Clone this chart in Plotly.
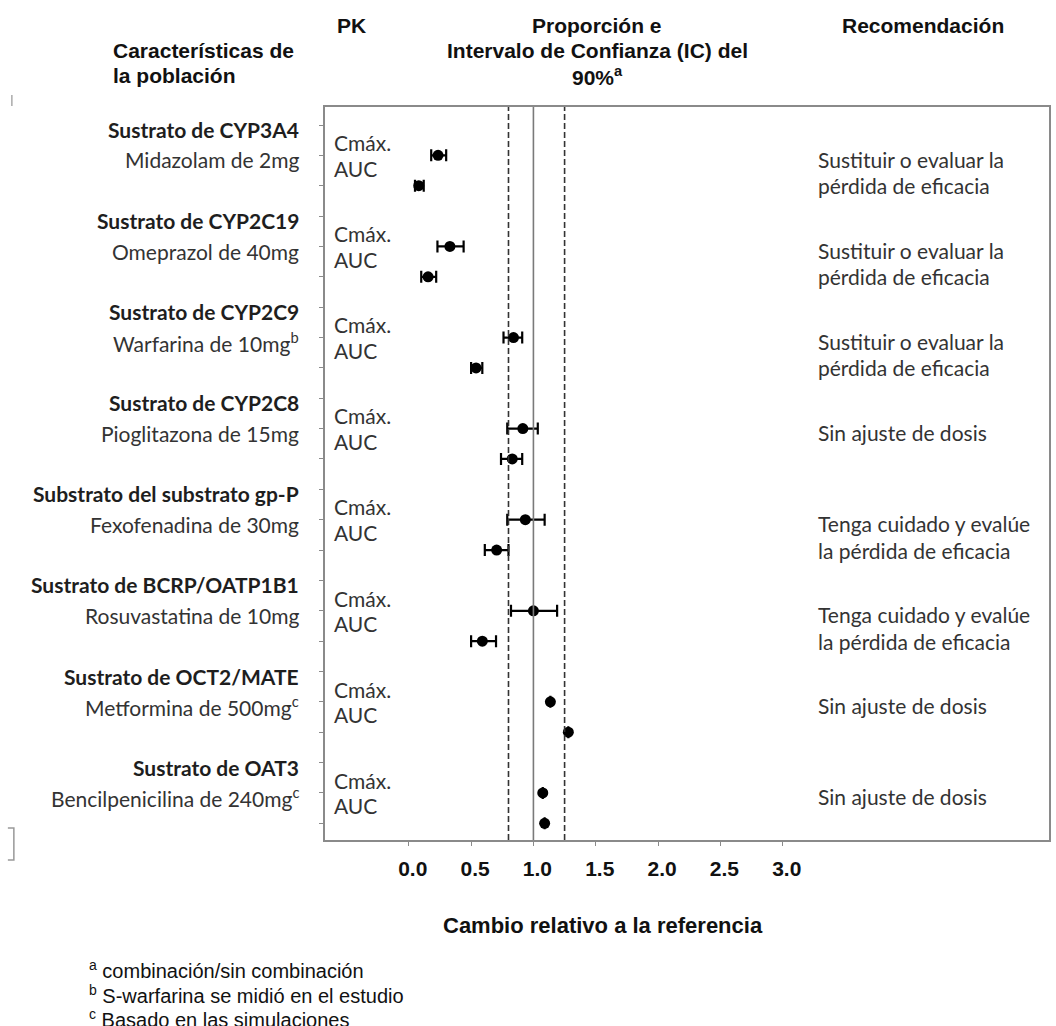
import plotly.graph_objects as go

# ---------------- data ----------------
group_titles = ["Sustrato de CYP3A4", "Sustrato de CYP2C19", "Sustrato de CYP2C9",
                "Sustrato de CYP2C8", "Substrato del substrato gp-P",
                "Sustrato de BCRP/OATP1B1", "Sustrato de OCT2/MATE", "Sustrato de OAT3"]
drugs = ["Midazolam de 2mg", "Omeprazol de 40mg", "Warfarina de 10mg<sup>b</sup>",
         "Pioglitazona de 15mg", "Fexofenadina de 30mg", "Rosuvastatina de 10mg",
         "Metformina de 500mg<sup>c</sup>", "Bencilpenicilina de 240mg<sup>c</sup>"]
recommendations = [
    ["Sustituir o evaluar la", "pérdida de eficacia"],
    ["Sustituir o evaluar la", "pérdida de eficacia"],
    ["Sustituir o evaluar la", "pérdida de eficacia"],
    ["Sin ajuste de dosis"],
    ["Tenga cuidado y evalúe", "la pérdida de eficacia"],
    ["Tenga cuidado y evalúe", "la pérdida de eficacia"],
    ["Sin ajuste de dosis"],
    ["Sin ajuste de dosis"],
]
cmax_ratio = [0.235, 0.33, 0.84, 0.915, 0.935, 1.00, 1.136, 1.075]
cmax_low   = [0.18, 0.23, 0.76, 0.79, 0.79, 0.82, None, None]
cmax_high  = [0.30, 0.44, 0.91, 1.035, 1.09, 1.19, None, None]
auc_ratio  = [0.08, 0.155, 0.54, 0.83, 0.705, 0.59, 1.28, 1.09]
auc_low    = [0.05, 0.10, 0.50, 0.74, 0.61, 0.50, None, None]
auc_high   = [0.12, 0.22, 0.59, 0.91, 0.80, 0.70, None, None]
x_tickvals = [0.0, 0.5, 1.0, 1.5, 2.0, 2.5, 3.0]
x_ticktext = ["0.0", "0.5", "1.0", "1.5", "2.0", "2.5", "3.0"]
no_effect = 1.0
bounds = [0.8, 1.25]
footnotes = [("a", "combinación/sin combinación"),
             ("b", "S-warfarina se midió en el estudio"),
             ("c", "Basado en las simulaciones")]

# ---------------- layout helpers ----------------
W, H = 1056, 1026
PL, PR, PT, PB = 325, 1051, 107, 840
X0_PX, PX_PER_UNIT = 409, 125
def px(xp):
    return (xp - PL) / (PR - PL)
def py(yp):
    return (PB - yp) / (PB - PT)

n = len(drugs)
rows_c = [3 * g + 1 for g in range(n)]
rows_a = [3 * g + 2 for g in range(n)]

def err(vals, lo, hi):
    plus = [(h - v) if h is not None else 0 for v, h in zip(vals, hi)]
    minus = [(v - l) if l is not None else 0 for v, l in zip(vals, lo)]
    return plus, minus

cp, cm = err(cmax_ratio, cmax_low, cmax_high)
ap, am = err(auc_ratio, auc_low, auc_high)

fig = go.Figure()
for xs, ys, pl, mi in [(cmax_ratio, rows_c, cp, cm), (auc_ratio, rows_a, ap, am)]:
    fig.add_trace(go.Scatter(
        x=xs, y=ys, mode="markers",
        marker=dict(color="black", size=11),
        error_x=dict(type="data", array=pl, arrayminus=mi, color="black",
                     thickness=2.2, width=6),
        showlegend=False, hoverinfo="skip"))

axis_col = "#8a8a8a"
fig.update_xaxes(range=[(PL - X0_PX) / PX_PER_UNIT, (PR - X0_PX) / PX_PER_UNIT],
                 tickvals=x_tickvals, ticktext=x_ticktext, ticks="outside", ticklen=4,
                 tickcolor=axis_col, showline=True, linecolor=axis_col, linewidth=1.5,
                 mirror=True, showgrid=False, zeroline=False, ticklabelstandoff=5,
                 ticklabelshift=4,
                 tickfont=dict(family="Liberation Sans", size=21, color="#111",
                               weight="bold"))
fig.update_yaxes(range=[23.55, -0.593], tickvals=list(range(3 * n)), showticklabels=False,
                 ticks="outside", ticklen=4, tickcolor=axis_col,
                 showline=True, linecolor=axis_col, linewidth=1.5, mirror=True,
                 showgrid=False, zeroline=False)

# reference lines
fig.add_shape(type="line", xref="x", yref="paper", x0=no_effect, x1=no_effect, y0=0, y1=1,
              line=dict(color="#7a7a7a", width=1.6))
for b in bounds:
    fig.add_shape(type="line", xref="x", yref="paper", x0=b, x1=b, y0=0, y1=1,
                  line=dict(color="#333", width=1.6, dash="6px,3px"))

body_font = "Lato"
BS = 21
ann = []
for g in range(n):
    ann.append(dict(text="<b>" + group_titles[g] + "</b>", xref="paper", yref="y",
                    x=px(301), y=3 * g + 0.15, xanchor="right", yanchor="middle",
                    showarrow=False, font=dict(family=body_font, size=BS, color="#1e1e1e")))
    ann.append(dict(text=drugs[g], xref="paper", yref="y",
                    x=px(301), y=3 * g + 1.15, xanchor="right", yanchor="middle",
                    showarrow=False, font=dict(family=body_font, size=BS, color="#333")))
    ann.append(dict(text="Cmáx.", xref="paper", yref="y", x=px(332), y=rows_c[g] - 0.42,
                    xanchor="left", yanchor="middle", showarrow=False,
                    font=dict(family=body_font, size=BS, color="#333")))
    ann.append(dict(text="AUC", xref="paper", yref="y", x=px(332), y=rows_c[g] + 0.42,
                    xanchor="left", yanchor="middle", showarrow=False,
                    font=dict(family=body_font, size=BS, color="#333")))
    rec = recommendations[g]
    ys = [rows_c[g] + 0.13, rows_a[g] + 0.0][:len(rec)]
    for line, yy in zip(rec, ys):
        ann.append(dict(text=line, xref="paper", yref="y", x=px(817), y=yy,
                        xanchor="left", yanchor="middle", showarrow=False,
                        font=dict(family=body_font, size=BS, color="#333")))

hdr = dict(family="Liberation Sans", size=21, color="#111", weight="bold")
def top_text(t, xp, yp, anchor="left", font=hdr):
    ann.append(dict(text=t, xref="paper", yref="paper", x=px(xp), y=py(yp),
                    xanchor=anchor, yanchor="middle", showarrow=False, font=font))

top_text("PK", 335, 25)
top_text("Características de", 110, 51)
top_text("la población", 110, 76)
top_text("Proporción e", 598, 25, "center")
top_text("Intervalo de Confianza (IC) del", 598, 51, "center")
top_text("90%<sup>a</sup>", 598, 76, "center")
top_text("Recomendación", 925, 25, "center")
top_text("Cambio relativo a la referencia", 604, 925, "center",
         dict(family="Liberation Sans", size=22, color="#111", weight="bold"))
for i, (sup, txt) in enumerate(footnotes):
    top_text("<sup>" + sup + "</sup> " + txt, 86, 970 + 24 * i, "left",
             dict(family="Liberation Sans", size=20, color="#111"))

fig.update_layout(annotations=ann)

# scan artifacts on the left edge
fig.add_shape(type="line", xref="paper", yref="paper", x0=px(11), x1=px(11),
              y0=py(95), y1=py(106), line=dict(color="#aaa", width=1.5))
fig.add_shape(type="path", xref="paper", yref="paper",
              path=f"M {px(7)} {py(828)} L {px(13)} {py(828)} L {px(13)} {py(860)} L {px(7)} {py(860)}",
              line=dict(color="#999", width=1.5))

fig.update_layout(width=W, height=H, plot_bgcolor="white", paper_bgcolor="white",
                  margin=dict(l=PL, r=W - PR, t=PT, b=H - PB))

fig.write_html("out.html", config={"displayModeBar": False},
               post_script="document.body.style.margin='0';document.body.style.overflow='hidden';")
